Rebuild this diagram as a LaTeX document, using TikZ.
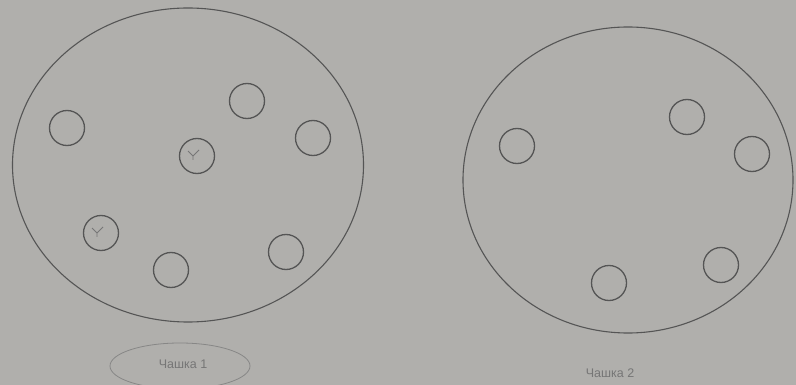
\documentclass[tikz,border=0pt]{standalone}
\usepackage{fontspec}
\setmainfont{Liberation Sans}
\usetikzlibrary{shapes.geometric}
\definecolor{paper}{RGB}{176,175,172}
\definecolor{ink}{RGB}{85,85,85}
\definecolor{faint}{RGB}{118,118,118}
\begin{document}
\begin{tikzpicture}[x=1pt,y=-1pt,
  dish/.style={draw=ink,line width=1.1pt,ellipse,inner sep=0pt},
  well/.style={draw=ink,line width=1.3pt,circle,minimum size=35pt,inner sep=0pt},
  tick/.style={draw=faint,line width=0.8pt},
  lbl/.style={text=faint,font=\fontsize{12.5}{14}\selectfont,inner sep=1pt}]
\fill[paper] (0,0) rectangle (796,385);
\useasboundingbox (0,0) rectangle (796,385);
% dish 1
\node[dish,minimum width=351pt,minimum height=314pt] (d1) at (188,165) {};
\node[well] (a1) at (67,128) {};
\node[well] (a2) at (247,101) {};
\node[well] (a3) at (313,138) {};
\node[well] (a4) at (197,156) {};
\node[well] (a5) at (101,233) {};
\node[well] (a6) at (171,270) {};
\node[well] (a7) at (286,252) {};
\draw[tick] (188,151) -- (193,156) -- (199,150) (193,156) -- (193,160);
\draw[tick] (92,228) -- (97,233) -- (103,227) (97,233) -- (97,237);
\node[lbl] (l1) at (183,364) {Чашка 1};
\draw[draw=faint!70!paper,line width=0.8pt] (180,366) ellipse (70pt and 23pt);
% dish 2
\node[dish,minimum width=330pt,minimum height=306pt] (d2) at (628,180) {};
\node[well] (b1) at (517,146) {};
\node[well] (b2) at (687,117) {};
\node[well] (b3) at (752,154) {};
\node[well] (b4) at (721,265) {};
\node[well] (b5) at (609,283) {};
\node[lbl] (l2) at (610,373) {Чашка 2};
\end{tikzpicture}
\end{document}
